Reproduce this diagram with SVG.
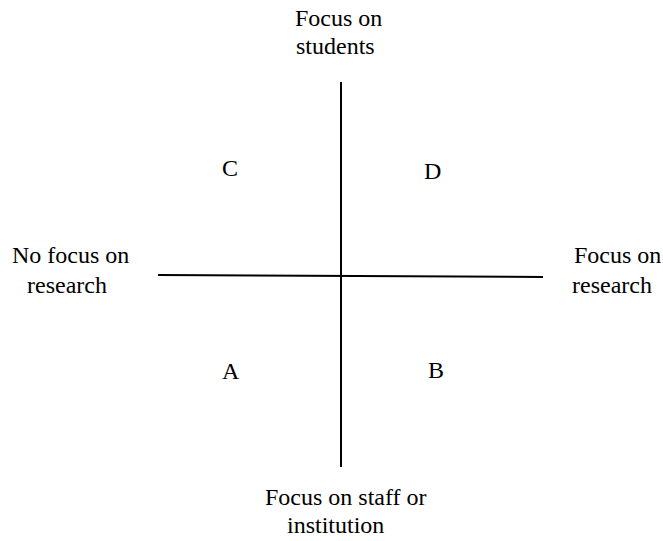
<svg xmlns="http://www.w3.org/2000/svg" width="663" height="541" viewBox="0 0 663 541">
<style>
text{font-family:"Liberation Serif","Times New Roman",serif;font-size:24px;fill:#000}
.ax{stroke:#000;stroke-width:2;fill:none}
</style>
<rect width="663" height="541" fill="#fff"/>
<g id="connectors">
<line class="ax" x1="341" y1="82" x2="341" y2="467"/>
<line class="ax" x1="158" y1="275" x2="543" y2="277"/>
</g>
<g id="top-label"><text x="295" y="26">Focus on</text><text x="296" y="54">students</text></g>
<g id="left-label"><text x="12" y="263">No focus on</text><text x="27" y="293">research</text></g>
<g id="right-label"><text x="574" y="263">Focus on</text><text x="572" y="293">research</text></g>
<g id="bottom-label"><text x="265" y="505">Focus on staff or</text><text x="287" y="533">institution</text></g>
<g id="C"><text x="222" y="176">C</text></g>
<g id="D"><text x="424" y="179">D</text></g>
<g id="A"><text x="222" y="379">A</text></g>
<g id="B"><text x="428" y="378">B</text></g>
</svg>
